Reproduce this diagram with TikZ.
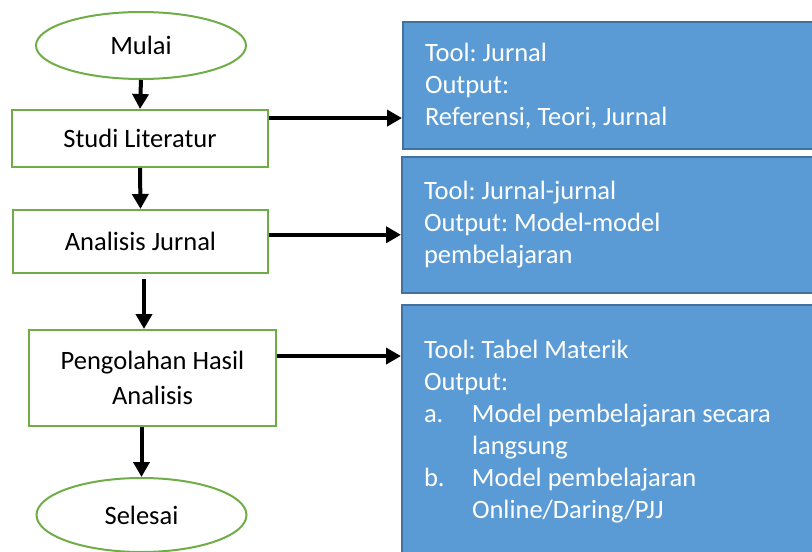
\documentclass[tikz,border=0pt]{standalone}
\usepackage{fontspec}
\setmainfont{Carlito}
\frenchspacing
\usetikzlibrary{arrows.meta,shapes,positioning}
\definecolor{fcgreen}{RGB}{112,173,71}
\definecolor{fcblue}{RGB}{91,155,213}
\definecolor{fcdarkblue}{RGB}{65,113,156}
\tikzstyle{arrow} = [line width=4pt,-{Triangle[length=15pt,width=16pt]}]
\tikzstyle{terminal} = [ellipse, draw=fcgreen, line width=2pt, minimum width=210pt, inner sep=0pt]
\tikzstyle{process} = [rectangle, draw=fcgreen, line width=2pt, align=center, inner sep=0pt]
\tikzstyle{infobox} = [rectangle, draw=fcdarkblue, fill=fcblue, line width=2pt, text=white, anchor=north west, align=flush left, text width=386pt, inner xsep=22pt, inner ysep=0pt]

\begin{document}
\begin{tikzpicture}[x=1pt, y=-1pt, font=\fontsize{26.5}{32}\selectfont]
\useasboundingbox (0,0) rectangle (812,552);
\clip (0,0) rectangle (812,552);

% Flow
\node[terminal, minimum height=67pt] (mulai) at (141,45.5) {Mulai};
\node[process, minimum width=256pt, minimum height=57pt] (studi) at (140,138.5) {Studi Literatur};
\node[process, minimum width=255pt, minimum height=63pt] (analisis) at (140.5,241.5) {Analisis Jurnal};
\node[process, minimum width=247pt, minimum height=96pt, font=\fontsize{26.5}{35}\selectfont] (pengolahan) at (152.5,378) {Pengolahan Hasil\\Analisis};
\node[terminal, minimum height=74pt] (selesai) at (141.5,515) {Selesai};

% Outputs
\node[infobox, minimum height=127pt] (litout) at (402,21) {Tool: Jurnal\\Output:\\Referensi, Teori, Jurnal};
\node[infobox, minimum height=136pt] (jurnalout) at (401,156) {Tool: Jurnal-jurnal\\Output: Model-model\\pembelajaran};
\node[infobox, minimum height=254pt] (hasilout) at (401,304) {Tool: Tabel Materik\\Output:\\
  \makebox[48pt][l]{a.}Model pembelajaran secara\\\hspace*{48pt}langsung\\
  \makebox[48pt][l]{b.}Model pembelajaran\\\hspace*{48pt}Online/Daring/PJJ};

% Connections
\draw[arrow] (mulai.south) -- (studi.north);
\draw[arrow] (studi.south) -- (analisis.north);
\draw[arrow] ([xshift=3.5pt, yshift=-5pt]analisis.south) -- ([xshift=3.5pt]analisis.south |- pengolahan.north);
\draw[arrow] (pengolahan.south -| selesai.north) -- (selesai.north);

\draw[arrow] (studi.9) -- (studi.9 -| litout.west);
\draw[arrow] (analisis.3) -- (analisis.3 -| jurnalout.west);
\draw[arrow] (pengolahan.10) -- (pengolahan.10 -| hasilout.west);
\end{tikzpicture}
\end{document}
